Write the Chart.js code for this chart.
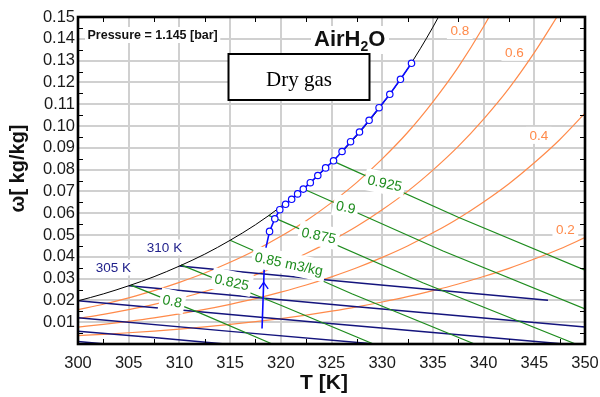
<!DOCTYPE html>
<html>
<head>
<meta charset="utf-8">
<script src="https://cdn.jsdelivr.net/npm/chart.js@4"></script>
<style>
html,body{margin:0;padding:0;background:#fff;}
#wrap{width:600px;height:397px;}
</style>
</head>
<body>
<div id="wrap"><canvas id="c" width="600" height="397"></canvas></div>
<script>
// Psychrometric chart of humid air (AirH2O) at 1.145 bar: T [K] vs humidity ratio [kg/kg]

// temperature grid shared by the saturation and relative humidity curves
const tempGrid = [300,302.5,305,307.5,310,312.5,315,317.5,320,322.5,325,327.5,330,332.5,335,337.5,340,342.5,345,347.5,350];

// saturation (100 %) curve
const satOmega = [0.01979,0.02298,0.02670,0.03088,0.03575,0.04121,0.04757,0.05470,0.06302,0.07235,0.08325,0.09554,0.10991,0.12618,0.14536,0.16731];

// relative humidity curves
const rh80 = [0.01573,0.01825,0.02118,0.02446,0.02827,0.03254,0.03748,0.04301,0.04941,0.05656,0.06486,0.07415,0.08492,0.09701,0.11110,0.12701,0.14561,0.16683];
const rh60 = [0.01173,0.01359,0.01575,0.01817,0.02097,0.02409,0.02770,0.03171,0.03634,0.04148,0.04741,0.05400,0.06159,0.07002,0.07976,0.09063,0.10317,0.11726,0.13364,0.15202];
const rh40 = [0.00777,0.00899,0.01041,0.01200,0.01382,0.01585,0.01819,0.02078,0.02376,0.02705,0.03082,0.03499,0.03975,0.04499,0.05100,0.05762,0.06518,0.07355,0.08314,0.09371,0.10585];
const rh20 = [0.00386,0.00446,0.00516,0.00594,0.00684,0.00783,0.00897,0.01022,0.01166,0.01324,0.01504,0.01702,0.01926,0.02171,0.02449,0.02754,0.03097,0.03472,0.03897,0.04357,0.04878];
const rhLabels = ['0.8','0.6','0.4','0.2'];
const rhLabelT = [337.65,343.03,345.44,348.06];
const rhLabelW = [0.1438,0.1338,0.0957,0.0525];

// specific volume lines [m3/kg]: start on saturation, end on the frame
const v800T = [305.2,312,319.16],   v800W = [0.0270,0.01427,0];
const v825T = [310.15,320,329.14],  v825W = [0.0363,0.01777,0];
const v850T = [315.0,327,339.11],   v850W = [0.0476,0.02303,0];
const v875T = [318.8,334,349.08],   v875W = [0.0590,0.02808,0];
const v900T = [322.2,336,350],      v900W = [0.0712,0.04269,0.0161];
const v925T = [325.15,337.5,350],   v925W = [0.0839,0.05811,0.03382];
const volLabels = ['0.8','0.825','0.85 m3/kg','0.875','0.9','0.925'];
const volLabelT = [309.31,315.17,320.80,323.75,326.41,330.26];
const volLabelW = [0.01972,0.02844,0.03683,0.04986,0.06284,0.07385];

// wet bulb temperature lines
const wb310T = [310,328,346.35],   wb310W = [0.03575,0.02787,0.02005];
const wb305T = [305,327.5,350],    wb305W = [0.0267,0.01708,0.00778];
const wb300T = [300,324,347.97],   wb300W = [0.01979,0.00971,0];
const wb295T = [300,315,329.3],    wb295W = [0.0121,0.00579,0];
const wb290T = [300,308,314.5],    wb290W = [0.0059,0.00274,0];
const wb285T = [300,302.7],        wb285W = [0.0011,0];
const wbLabels = ['305 K','310 K'];
const wbLabelT = [303.48,308.53];
const wbLabelW = [0.0351,0.0443];

// process path
const procT = [318.15,318.35,318.52,318.89,319.41,319.90,320.47,321.07,321.66,322.22,322.91,323.65,324.42,325.20,326.04,326.88,327.76,328.71,329.69,330.75,331.80,332.89];
const procW = [0.0071,0.0332,0.0439,0.05165,0.05743,0.06161,0.06408,0.06638,0.06885,0.07106,0.07399,0.07729,0.08078,0.08404,0.08830,0.09280,0.09725,0.10261,0.10839,0.11454,0.12142,0.12876];
const procArrowT = 318.31, procArrowW = 0.0278;

const C_ORANGE = '#ff8a4a', C_GREEN = '#1e8c1e', C_NAVY = '#14147d', C_BLUE = '#0a0aff';
const SANS = '"Liberation Sans", Arial, sans-serif';

const pts = (xs, ys) => ys.map((v, i) => ({x: xs[i], y: v}));
const curve = (xs, ys, color, width, smooth) => ({
  data: pts(xs, ys), borderColor: color, borderWidth: width, pointRadius: 0,
  showLine: true, fill: false, cubicInterpolationMode: smooth ? 'monotone' : 'default', tension: 0
});

const datasets = [
  Object.assign(curve(procT, procW, C_BLUE, 1.6, false), {
    pointRadius: procT.map((t, i) => i < 3 ? 0 : 3.2),
    pointBackgroundColor: '#ffffff', pointBorderColor: C_BLUE, pointBorderWidth: 1.2
  }),
  curve(tempGrid.slice(0, satOmega.length), satOmega, '#000000', 1, true),
  curve(v800T, v800W, C_GREEN, 1.2, false),
  curve(v825T, v825W, C_GREEN, 1.2, false),
  curve(v850T, v850W, C_GREEN, 1.2, false),
  curve(v875T, v875W, C_GREEN, 1.2, false),
  curve(v900T, v900W, C_GREEN, 1.2, false),
  curve(v925T, v925W, C_GREEN, 1.2, false),
  curve(wb310T, wb310W, C_NAVY, 1.5, false),
  curve(wb305T, wb305W, C_NAVY, 1.5, false),
  curve(wb300T, wb300W, C_NAVY, 1.5, false),
  curve(wb295T, wb295W, C_NAVY, 1.5, false),
  curve(wb290T, wb290W, C_NAVY, 1.5, false),
  curve(wb285T, wb285W, C_NAVY, 1.5, false),
  curve(tempGrid.slice(0, rh80.length), rh80, C_ORANGE, 1.2, true),
  curve(tempGrid.slice(0, rh60.length), rh60, C_ORANGE, 1.2, true),
  curve(tempGrid.slice(0, rh40.length), rh40, C_ORANGE, 1.2, true),
  curve(tempGrid.slice(0, rh20.length), rh20, C_ORANGE, 1.2, true)
];

function boxedText(ctx, text, px, py, angle, font, color, padX, boxH) {
  ctx.save();
  ctx.translate(px, py);
  ctx.rotate(angle);
  ctx.font = font;
  const w = ctx.measureText(text).width;
  ctx.fillStyle = '#ffffff';
  ctx.fillRect(-w / 2 - padX, -boxH / 2, w + 2 * padX, boxH);
  ctx.fillStyle = color;
  ctx.textAlign = 'center';
  ctx.textBaseline = 'middle';
  ctx.fillText(text, 0, 1);
  ctx.restore();
}

const decorations = {
  id: 'decorations',
  afterDatasetsDraw(chart) {
    const {ctx, chartArea: a, scales: {x, y}} = chart;
    ctx.save();
    ctx.beginPath();
    ctx.rect(a.left, a.top, a.right - a.left, a.bottom - a.top);
    ctx.clip();

    // direction arrow on the process path
    const ax = x.getPixelForValue(procArrowT), ay = y.getPixelForValue(procArrowW);
    ctx.strokeStyle = C_BLUE; ctx.lineWidth = 1.4;
    ctx.beginPath();
    ctx.moveTo(ax - 4.5, ay + 5.5); ctx.lineTo(ax, ay - 1); ctx.lineTo(ax + 4.5, ay + 5.5);
    ctx.stroke();

    // specific volume labels
    volLabels.forEach((t, i) => boxedText(ctx, t, x.getPixelForValue(volLabelT[i]), y.getPixelForValue(volLabelW[i]),
      12 * Math.PI / 180, '14px ' + SANS, C_GREEN, 3, 22));
    // relative humidity labels
    rhLabels.forEach((t, i) => boxedText(ctx, t, x.getPixelForValue(rhLabelT[i]), y.getPixelForValue(rhLabelW[i]),
      0, '13.5px ' + SANS, C_ORANGE, 3.5, 17));
    // wet bulb labels
    wbLabels.forEach((t, i) => boxedText(ctx, t, x.getPixelForValue(wbLabelT[i]), y.getPixelForValue(wbLabelW[i]),
      0, '13.5px ' + SANS, '#22228c', 2, 16));

    // pressure note
    ctx.font = 'bold 12.5px ' + SANS;
    const pText = 'Pressure = 1.145 [bar]';
    const pw = ctx.measureText(pText).width;
    ctx.fillStyle = '#fff';
    ctx.fillRect(85, 27, pw + 5, 16);
    ctx.fillStyle = '#111';
    ctx.textBaseline = 'alphabetic';
    ctx.textAlign = 'left';
    ctx.fillText(pText, 87.5, 39);

    // fluid name
    ctx.fillStyle = '#fff';
    ctx.fillRect(311, 26, 78, 28);
    ctx.fillStyle = '#111';
    ctx.font = 'bold 22px ' + SANS;
    let tx = 314;
    ctx.fillText('AirH', tx, 45.5); tx += ctx.measureText('AirH').width;
    ctx.font = 'bold 14px ' + SANS;
    ctx.fillText('2', tx, 50.5); tx += ctx.measureText('2').width;
    ctx.font = 'bold 22px ' + SANS;
    ctx.fillText('O', tx, 45.5);

    // boxed caption
    ctx.fillStyle = '#fff';
    ctx.fillRect(228.5, 54, 141, 46);
    ctx.strokeStyle = '#000'; ctx.lineWidth = 2;
    ctx.strokeRect(228.5, 54, 141, 46);
    ctx.fillStyle = '#000';
    ctx.font = '21px "Liberation Serif", "Times New Roman", serif';
    ctx.textAlign = 'center';
    ctx.fillText('Dry gas', 299, 85.5);
    ctx.restore();
  },
  afterDraw(chart) {
    const {ctx, chartArea: a, scales: {x, y}} = chart;
    ctx.save();
    // minor ticks on all four sides, pointing inward
    ctx.strokeStyle = '#000'; ctx.lineWidth = 1;
    ctx.beginPath();
    for (let t = 302.5; t < 350; t += 5) {
      const px = Math.round(x.getPixelForValue(t)) + 0.5;
      ctx.moveTo(px, a.bottom); ctx.lineTo(px, a.bottom - 5);
      ctx.moveTo(px, a.top); ctx.lineTo(px, a.top + 5);
    }
    for (let w = 0.005; w < 0.15; w += 0.01) {
      const py = Math.round(y.getPixelForValue(w)) + 0.5;
      ctx.moveTo(a.left, py); ctx.lineTo(a.left + 5, py);
      ctx.moveTo(a.right, py); ctx.lineTo(a.right - 5, py);
    }
    ctx.stroke();
    // frame
    ctx.lineWidth = 2.6;
    ctx.strokeRect(a.left, a.top, a.right - a.left, a.bottom - a.top);

    // axis titles
    ctx.fillStyle = '#111';
    ctx.font = 'bold 21px ' + SANS;
    ctx.textAlign = 'center';
    ctx.textBaseline = 'alphabetic';
    ctx.fillText('T [K]', 324, 389);
    ctx.translate(18, 168.5);
    ctx.rotate(-Math.PI / 2);
    ctx.font = 'bold 20px ' + SANS;
    ctx.textBaseline = 'middle';
    ctx.fillText('ω[ kg/kg]', 0, 0);
    ctx.restore();
  }
};

new Chart(document.getElementById('c'), {
  type: 'scatter',
  data: {datasets},
  options: {
    responsive: false,
    animation: false,
    devicePixelRatio: 1,
    layout: {padding: {top: 17, right: 15, left: 0, bottom: 0}},
    plugins: {legend: {display: false}, tooltip: {enabled: false}},
    scales: {
      x: {
        type: 'linear', min: 300, max: 350,
        afterFit(s) { s.height = 53; s.paddingLeft = 0; s.paddingRight = 0; },
        ticks: {stepSize: 5, autoSkip: false, maxRotation: 0, padding: 10, color: '#1a1a1a', font: {family: SANS, size: 16.5}},
        grid: {color: '#d0d0d0', lineWidth: 2, drawTicks: false},
        border: {display: false}
      },
      y: {
        type: 'linear', min: 0, max: 0.15,
        afterFit(s) { s.width = 78; s.paddingTop = 0; s.paddingBottom = 0; },
        ticks: {stepSize: 0.01, autoSkip: false, padding: 3, color: '#1a1a1a', font: {family: SANS, size: 16.5},
          callback: v => (Math.abs(v) < 1e-9 ? '' : v.toFixed(2))},
        grid: {color: '#d0d0d0', lineWidth: 2, drawTicks: false},
        border: {display: false}
      }
    }
  },
  plugins: [decorations]
});
</script>
</body>
</html>
